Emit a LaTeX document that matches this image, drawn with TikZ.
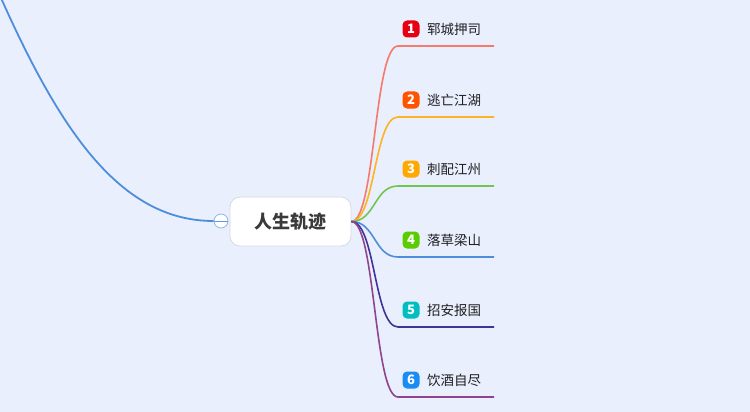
\documentclass[tikz,border=0pt]{standalone}
\usepackage{fontspec}
\newfontfamily\cjk{Noto Sans CJK SC}
\definecolor{bgc}{HTML}{E9EFFD}
\definecolor{rootbd}{HTML}{D6DAE3}
\definecolor{roottx}{HTML}{3A3A3A}
\definecolor{lblue}{HTML}{4E8DDC}
\definecolor{colbd}{HTML}{8AB4EE}
\definecolor{l1}{HTML}{F47A6B}
\definecolor{l2}{HTML}{FDB322}
\definecolor{l3}{HTML}{73C552}
\definecolor{l4}{HTML}{4E8DDC}
\definecolor{l5}{HTML}{3F3497}
\definecolor{l6}{HTML}{8E448E}
\definecolor{b1}{HTML}{E60012}
\definecolor{b2}{HTML}{FF5500}
\definecolor{b3}{HTML}{FFA800}
\definecolor{b4}{HTML}{5ACC00}
\definecolor{b5}{HTML}{00BEC2}
\definecolor{b6}{HTML}{1B8CF2}
\tikzset{
  rootbox/.style={draw=rootbd, line width=0.8pt, fill=white, rounded corners=10pt,
    minimum width=121pt, minimum height=49pt, inner sep=0pt,
    font=\cjk\fontsize{18}{18}\selectfont\bfseries, text=roottx},
  badge/.style={fill=#1, rounded corners=4.5pt, minimum width=17pt, minimum height=17pt,
    inner sep=0pt, text=white, font=\cjk\fontsize{13}{13}\selectfont\bfseries},
  lbl/.style={anchor=west, inner sep=0pt, text=black!88, font=\cjk\fontsize{13.5}{14}\selectfont},
  branch/.style={draw=#1, line width=1.6pt},
  collapse/.style={circle, draw=colbd, fill=white, line width=0.8pt, minimum size=14pt, inner sep=0pt},
}
\begin{document}
\begin{tikzpicture}[x=1pt,y=-1pt]
\useasboundingbox (0,0) rectangle (750,412);
\fill[bgc] (0,0) rectangle (750,412);

\node[rootbox] (root) at (290.5,221.5) {人生轨迹};
\node[collapse] (col) at (221,221) {};
\coordinate (top) at (1,-2);
\draw[lblue, line width=1.8pt] (col.west) .. controls (120,221) and (60,130) .. (top);
\draw[colbd!80!blue, line width=0.8pt] (col.west) -- (col.east);

\foreach \i/\y/\t in {1/46/郓城押司, 2/117/逃亡江湖, 3/186/刺配江州, 4/257/落草梁山, 5/327/招安报国, 6/397/饮酒自尽} {
  \coordinate (e\i) at (398,\y);
  \coordinate (f\i) at (494,\y);
  \draw[branch=l\i] (root.east) .. controls +(24,0) and +(-24,0) .. (e\i) -- (f\i);
  \node[badge=b\i] (b\i) at (411,\y-17) {\i};
  \node[lbl] (t\i) at (427,\y-17) {\t};
}
\end{tikzpicture}
\end{document}
